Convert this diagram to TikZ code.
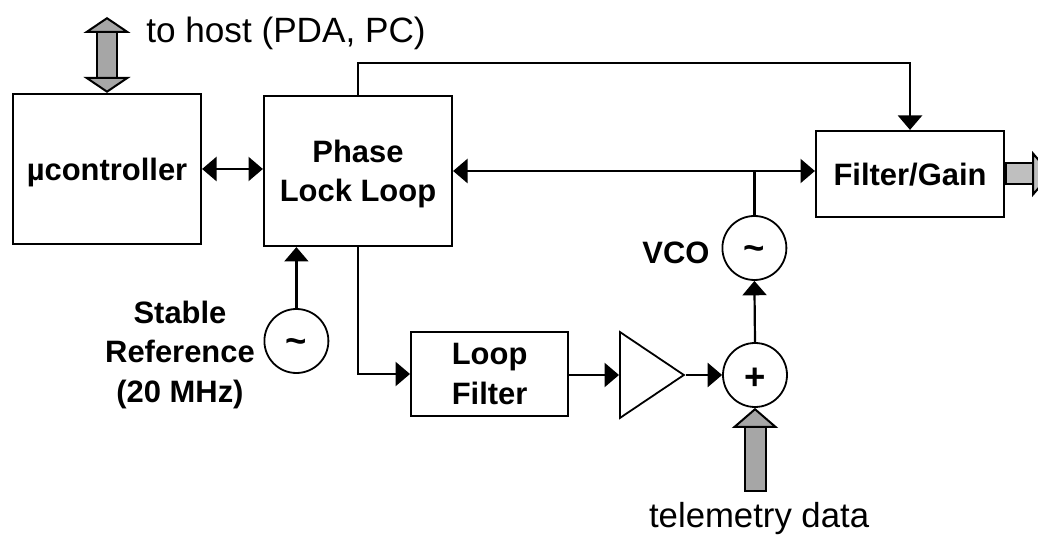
\documentclass[tikz,border=0pt]{standalone}
\usepackage{fontspec}
\setmainfont{Liberation Sans}
\usetikzlibrary{arrows.meta}
\usetikzlibrary{shapes.geometric}
\tikzset{
    block/.style={shape=rectangle,draw=black,line width=0.55mm,inner sep=0pt,align=center,text depth=0pt,font=\fontsize{22}{28}\selectfont\bfseries},
    osc/.style={shape=circle,draw=black,line width=0.45mm,inner sep=0pt,minimum size=16mm,text depth=0pt,text height=6.5mm,font=\fontsize{26}{28}\selectfont\bfseries},
    lbl/.style={align=center,inner sep=0pt,font=\fontsize{22}{28}\selectfont\bfseries},
    sig/.style={line width=0.55mm,-{Triangle[length=3.6mm, width=6mm]}},
    sigboth/.style={line width=0.55mm,{Triangle[length=3.6mm, width=6mm]}-{Triangle[length=3.6mm, width=6mm]}},
    bus/.style={line width=0.5mm,double distance=4.75mm,double=#1,{Bar[width=5.75mm]}-{Triangle[length=5mm, width=11.5mm, fill=#1]}},
    busboth/.style={line width=0.5mm,double distance=4.5mm,double=#1,{Triangle[length=4mm, width=11.75mm, fill=#1]}-{Triangle[length=4mm, width=11.75mm, fill=#1]}}
}

\begin{document}
\begin{tikzpicture}
    \clip (0,0) rectangle (25.95,13.425);

    \node[block,minimum width=4.7cm,minimum height=3.75cm] (ctrl) at (2.675,9.2) {µcontroller};
    \node[block,minimum width=4.7cm,minimum height=3.75cm] (pll) at (8.95,9.15) {Phase\\Lock Loop};
    \node[block,minimum width=4.7cm,minimum height=2.15cm] (gain) at (22.75,9.075) {Filter/Gain};
    \node[block,minimum width=3.925cm,minimum height=2.1cm] (loop) at (12.24,4.075) {Loop\\Filter};
    \node[shape=isosceles triangle,isosceles triangle stretches,draw=black,line width=0.45mm,inner sep=0pt,minimum width=2.15cm,minimum height=1.6cm,anchor=lower side] (amp) at (15.475,4.05) {};

    \node[osc] (vco) at (18.86,7.225) {\textasciitilde};
    \node[osc,text height=7.5mm] (sum) at (18.875,4.05) {+};
    \node[osc] (ref) at (7.41,4.9) {\textasciitilde};

    \node[lbl] (vco_lbl) at (16.9,7.1) {VCO};
    \node[lbl] (ref_lbl) at (4.5,4.55) {Stable\\Reference\\(20 MHz)};
    \node[inner sep=0pt,font=\fontsize{25}{30}\selectfont] (host_lbl) at (7.15,12.6) {to host (PDA, PC)};
    \node[inner sep=0pt,anchor=west,font=\fontsize{24.7}{30}\selectfont] (data_lbl) at (16.22,0.45) {telemetry data};

    \coordinate (top_rail) at (16,11.85);
    \coordinate (host_end) at (2.675,13.0);
    \coordinate (data_end) at (18.875,1.125);
    \coordinate (out_end) at (26.3,9.075);

    % signal paths
    \path [sigboth] (ctrl.east) edge (ctrl.east -| pll.west);
    \path [sigboth] (pll.east) edge (pll.east -| gain.west);
    \draw [sig] (pll.north) |- (top_rail) -| (gain.north);
    \draw [sig] (pll.south) |- (loop.west);
    \path [sig] (ref.north) edge (ref.north |- pll.south);
    \path [sig] (loop.east |- amp.lower side) edge (amp.lower side);
    \path [sig] (amp.apex) edge (sum.west);
    \path [sig] (sum.north) edge (vco.south);
    \draw [line width=0.55mm] (vco.north) -- (vco.north |- pll.east);

    % wide data paths
    \draw [busboth=gray!70] (host_end) -- (ctrl.north);
    \draw [bus=gray!70] (data_end) -- (sum.south);
    \draw [bus=gray!50] (gain.east) -- (out_end);
\end{tikzpicture}
\end{document}
